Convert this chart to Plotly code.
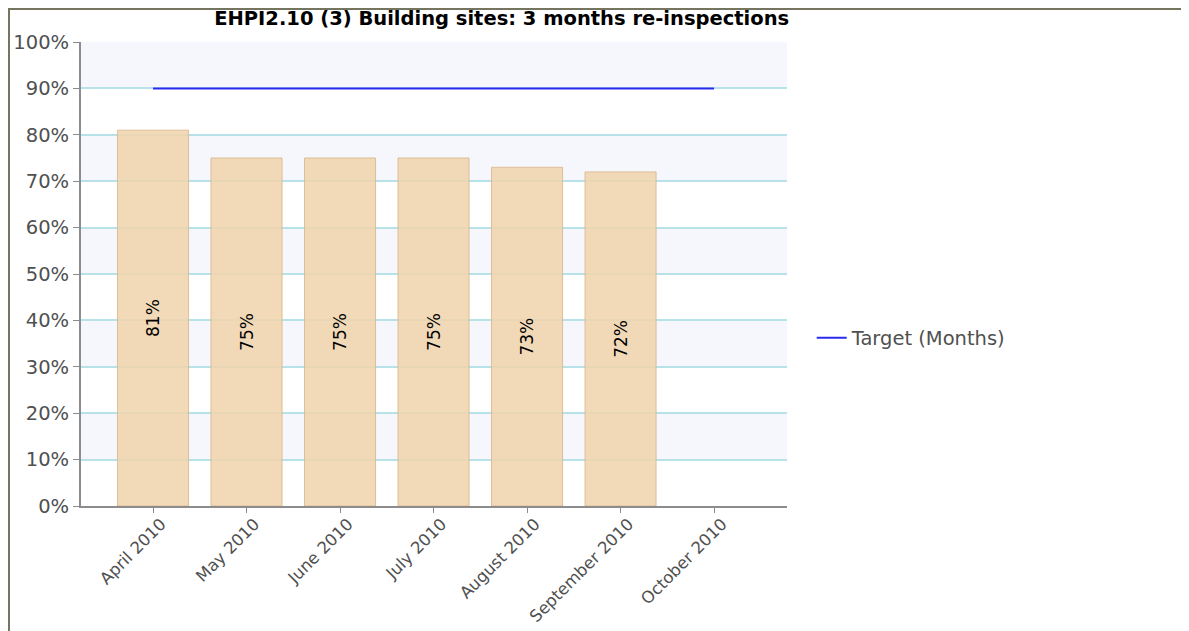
import plotly.graph_objects as go

months = ['April 2010', 'May 2010', 'June 2010', 'July 2010',
          'August 2010', 'September 2010', 'October 2010']
actual = [0.81, 0.75, 0.75, 0.75, 0.73, 0.72, None]
target = [0.90, 0.90, 0.90, 0.90, 0.90, 0.90, 0.90]
labels = ['81%', '75%', '75%', '75%', '73%', '72%', '']

fig = go.Figure()

# bars (no legend entry in the original)
fig.add_trace(go.Bar(
    x=months, y=actual, text=labels, width=0.76,
    marker=dict(color='rgba(240,212,172,0.85)',
                line=dict(color='rgba(215,180,135,0.8)', width=1)),
    textposition='inside', insidetextanchor='middle', textangle=-90,
    textfont=dict(color='black', size=17, family='DejaVu Sans'),
    showlegend=False, hoverinfo='skip'))

fig.add_trace(go.Scatter(
    x=months, y=target, mode='lines', name='Target (Months)',
    line=dict(color='#2a2af0', width=2)))

# alternating shaded bands
shapes = []
for lo in [0.1, 0.3, 0.5, 0.7, 0.9]:
    shapes.append(dict(type='rect', xref='paper', yref='y', x0=0, x1=1,
                       y0=lo, y1=lo + 0.1, fillcolor='#f5f7fd',
                       line_width=0, layer='below'))
# outer frame (left and top edges)
shapes.append(dict(type='line', xref='paper', yref='paper',
                   x0=-0.102, x1=-0.102, y0=1.075, y1=-0.27,
                   line=dict(color='#74745f', width=2)))
shapes.append(dict(type='line', xref='paper', yref='paper',
                   x0=-0.102, x1=1.57, y0=1.071, y1=1.071,
                   line=dict(color='#74745f', width=2)))

fig.update_layout(
    width=1181, height=623,
    margin=dict(l=73, r=402, t=34, b=125),
    paper_bgcolor='white', plot_bgcolor='white',
    font=dict(family='DejaVu Sans', size=17, color='#505050'),
    title=dict(text='<b>EHPI2.10 (3) Building sites: 3 months re-inspections</b>',
               x=0.418, xref='container', xanchor='center',
               y=0.995, yref='container', yanchor='top',
               font=dict(size=19.5, color='black')),
    shapes=shapes,
    legend=dict(x=1.035, y=0.362, xanchor='left', yanchor='middle',
                font=dict(size=19.5, color='#505050'), bgcolor='rgba(0,0,0,0)'),
)

fig.update_xaxes(type='category', categoryorder='array', categoryarray=months,
                 range=[-0.77, 6.78], tickangle=-45, showgrid=False,
                 showline=True, linecolor='#8c8c8c', linewidth=2,
                 ticks='outside', ticklen=5, tickcolor='#8c8c8c',
                 ticklabelshift=8, ticklabelstandoff=-5,
                 automargin=False,
                 tickfont=dict(size=16.5, color='#505050'))
fig.update_yaxes(range=[0, 1], dtick=0.1, tickformat='.0%',
                 showgrid=True, gridcolor='#b8e2ea', gridwidth=2,
                 showline=True, linecolor='#8c8c8c', linewidth=2,
                 ticks='outside', ticklen=6, tickcolor='#8c8c8c',
                 zeroline=False, automargin=False,
                 tickfont=dict(size=19.5, color='#505050'))

fig.write_html("out.html")
